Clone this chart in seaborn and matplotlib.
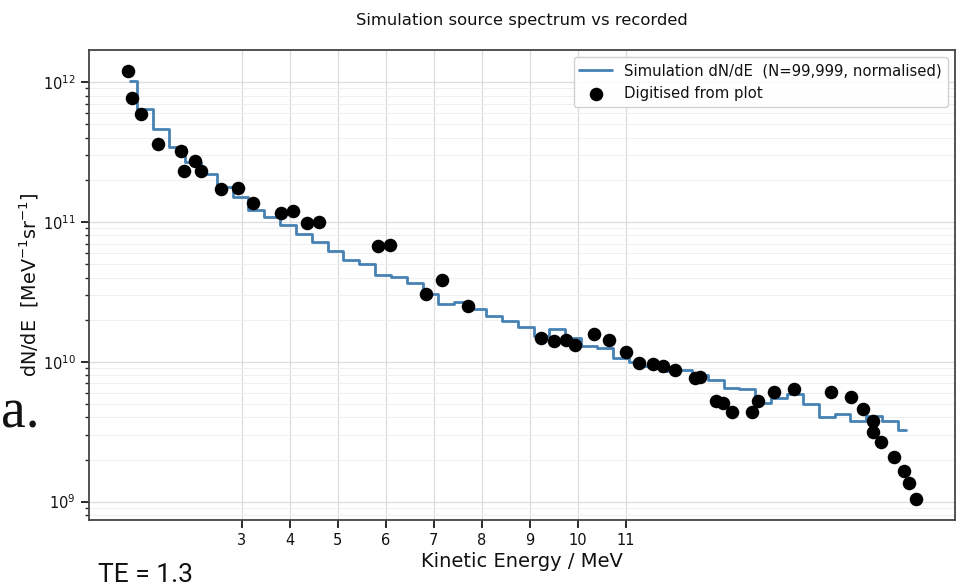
import numpy as np
import pandas as pd
import seaborn as sns
import matplotlib.pyplot as plt

# simulated spectrum, one value per bin (bin centres in MeV)
bin_centres = [0.665, 0.995, 1.325, 1.655, 1.985, 2.315, 2.645, 2.975, 3.305, 3.635,
               3.965, 4.295, 4.625, 4.955, 5.285, 5.615, 5.945, 6.275, 6.605, 6.935,
               7.265, 7.595, 7.925, 8.255, 8.585, 8.915, 9.245, 9.575, 9.905, 10.235,
               10.565, 10.895, 11.225, 11.555, 11.885, 12.215, 12.545, 12.875, 13.205, 13.535,
               13.865, 14.195, 14.525, 14.855, 15.185, 15.515, 15.845, 16.175, 16.505, 16.835]
sim_dnde = [1.01e12, 6.45e11, 4.59e11, 3.43e11, 2.68e11, 2.21e11, 1.77e11, 1.50e11, 1.22e11, 1.08e11,
            9.55e10, 8.14e10, 7.17e10, 6.18e10, 5.30e10, 4.97e10, 4.14e10, 4.03e10, 3.65e10, 3.06e10,
            2.60e10, 2.67e10, 2.39e10, 2.14e10, 1.97e10, 1.77e10, 1.53e10, 1.72e10, 1.49e10, 1.30e10,
            1.25e10, 1.07e10, 9.89e9, 9.26e9, 8.59e9, 8.74e9, 7.98e9, 7.35e9, 6.47e9, 6.41e9,
            5.07e9, 5.53e9, 5.84e9, 4.97e9, 4.02e9, 4.20e9, 3.76e9, 4.10e9, 3.77e9, 3.26e9]

# points
dig_energy = [0.64, 0.72, 0.90, 1.26, 1.73, 2.03, 1.80, 2.15, 2.57, 2.92,
              3.24, 3.82, 4.07, 4.36, 4.61, 5.84, 6.08, 6.84, 7.18, 7.71,
              9.23, 9.51, 9.76, 9.94, 10.33, 10.66, 11.00, 11.27, 11.56, 11.78,
              12.03, 12.44, 12.55, 12.88, 13.03, 13.22, 13.63, 13.76, 14.09, 14.50,
              15.27, 15.69, 15.94, 16.16, 16.15, 16.31, 16.59, 16.79, 16.91, 17.04]
dig_dnde = [1.19e12, 7.69e11, 5.94e11, 3.58e11, 3.19e11, 2.71e11, 2.30e11, 2.31e11, 1.71e11, 1.75e11,
            1.36e11, 1.16e11, 1.20e11, 9.80e10, 1.005e11, 6.70e10, 6.87e10, 3.06e10, 3.82e10, 2.50e10,
            1.48e10, 1.40e10, 1.44e10, 1.31e10, 1.57e10, 1.43e10, 1.18e10, 9.83e9, 9.56e9, 9.26e9,
            8.78e9, 7.60e9, 7.81e9, 5.20e9, 5.07e9, 4.36e9, 4.34e9, 5.20e9, 6.05e9, 6.34e9,
            6.03e9, 5.62e9, 4.61e9, 3.76e9, 3.17e9, 2.69e9, 2.10e9, 1.66e9, 1.35e9, 1.05e9]

x_ticks = [3, 4, 5, 6, 7, 8, 9, 10, 11]

sim = pd.DataFrame({'E': bin_centres, 'dnde': sim_dnde})
dig = pd.DataFrame({'E': dig_energy, 'dnde': dig_dnde})

sns.set_theme(style="ticks")
plt.rcParams['font.family'] = ['DejaVu Sans']
plt.rcParams['text.color'] = '#111111'
plt.rcParams['axes.labelcolor'] = '#111111'

fig = plt.figure(figsize=(9.64, 5.87), dpi=100)
ax = fig.add_axes([0.0923, 0.1141, 0.8984, 0.8007])
ax.set_yscale('log')

sns.lineplot(data=sim, x='E', y='dnde', ax=ax, drawstyle='steps-mid',
             color='#4682b4', linewidth=2,
             label='Simulation dN/dE  (N=99,999, normalised)', zorder=2)
sns.scatterplot(data=dig, x='E', y='dnde', ax=ax, color='black', s=95,
                linewidth=0, label='Digitised from plot', zorder=3)

ax.set_xticks(x_ticks)
ax.set_xticklabels([str(t) for t in x_ticks])
ax.tick_params(axis='both', labelsize=10.5, colors='#111111')
ax.tick_params(axis='y', which='minor', length=3)

ax.grid(True, which='major', color='#dddddd', linewidth=0.9)
ax.grid(True, which='minor', axis='y', color='#efefef', linewidth=0.7)
ax.set_axisbelow(True)
for s in ax.spines.values():
    s.set_color('#444444')
    s.set_linewidth(1.3)

ax.set_title('Simulation source spectrum vs recorded', fontsize=11.8, pad=18)
ax.set_xlabel('Kinetic Energy / MeV', fontsize=14, labelpad=3)
ax.set_ylabel('dN/dE  [MeV$^{-1}$sr$^{-1}$]', fontsize=13.8, labelpad=1.5)

ax.legend(loc='upper right', fontsize=10.7, frameon=True, edgecolor='#cccccc',
          framealpha=0.9, handlelength=2.2)

# leftovers visible at the edge of the reference image
fig.text(0.001, 1 - 427 / 587, 'a.', fontsize=40, va='baseline',
         family=['Liberation Serif', 'DejaVu Serif'])
fig.text(98 / 964, 1 - 582 / 587, 'TE = 1.3', fontsize=19, va='baseline',
         family=['Roboto', 'DejaVu Sans'])

fig.savefig('out.png', dpi=100)
plt.close(fig)
